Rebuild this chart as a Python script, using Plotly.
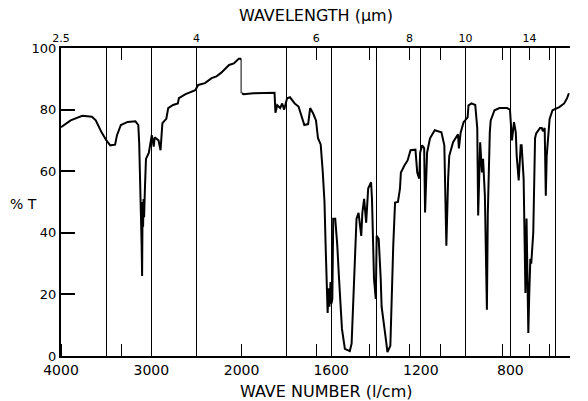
import plotly.graph_objects as go

# ---- data: 4000-2000 cm-1 segment ----
wn_hi = [4000, 3893, 3765, 3658, 3615, 3551, 3497, 3455, 3401, 3380, 3337, 3262, 3176, 3144,
         3134, 3123, 3112, 3107, 3102, 3096, 3091, 3086, 3080, 3070, 3059, 3027, 3016, 2995,
         2973, 2963, 2920, 2898, 2877, 2834, 2813, 2759, 2706, 2695, 2620, 2513, 2481, 2406,
         2332, 2278, 2225, 2139, 2086, 2032, 2011, 2000, 2000]
t_hi = [74.3, 76.5, 78.0, 77.7, 76.5, 72.6, 70.0, 68.4, 68.6, 71.7, 75.0, 76.0, 76.2, 75.0,
        69.0, 57.6, 48.0, 36.0, 26.0, 50.0, 42.0, 51.0, 45.0, 55.0, 64.0, 66.0, 68.4, 71.7,
        68.0, 71.0, 70.0, 66.8, 75.6, 77.0, 80.5, 81.5, 82.0, 83.7, 85.0, 86.3, 88.0, 88.6,
        90.2, 90.8, 92.0, 94.5, 95.0, 96.5, 96.5, 96.0, 85.3]

# ---- data: 2000-534 cm-1 segment ----
wn_lo = [2000, 1991, 1948, 1862, 1853, 1849, 1841, 1828, 1819, 1810, 1797, 1784, 1763, 1746,
         1733, 1720, 1703, 1694, 1681, 1668, 1659, 1647, 1638, 1630, 1625, 1621, 1616, 1612,
         1608, 1603, 1599, 1595, 1591, 1582, 1573, 1565, 1552, 1539, 1517, 1509, 1504, 1496,
         1487, 1478, 1470, 1466, 1461, 1453, 1444, 1435, 1422, 1418, 1409, 1401, 1397, 1388,
         1379, 1375, 1358, 1349, 1336, 1332, 1323, 1315, 1302, 1293, 1289, 1272, 1259, 1246,
         1224, 1216, 1207, 1203, 1194, 1185, 1181, 1172, 1159, 1138, 1108, 1095, 1086, 1078,
         1073, 1056, 1043, 1034, 1030, 1022, 1009, 991, 987, 974, 957, 948, 944, 935, 927,
         922, 914, 905, 901, 897, 892, 888, 871, 849, 815, 802, 797, 793, 784, 776, 772, 763,
         754, 750, 741, 737, 733, 728, 724, 720, 716, 711, 707, 703, 698, 690, 685, 668, 660,
         655, 647, 642, 638, 625, 612, 582, 560, 547, 539]
t_lo = [85.3, 85.0, 85.3, 85.7, 85.5, 79.0, 81.4, 80.5, 82.0, 80.0, 83.7, 84.0, 82.0, 81.0,
        78.0, 75.0, 75.3, 80.5, 78.8, 76.5, 70.7, 68.7, 60.0, 50.0, 36.0, 25.0, 14.0, 22.0,
        16.0, 24.0, 17.0, 18.5, 44.6, 44.6, 36.0, 25.0, 8.8, 2.3, 1.6, 4.0, 14.0, 30.0,
        44.6, 46.5, 41.0, 39.0, 46.5, 51.0, 43.3, 54.4, 56.4, 51.0, 25.0, 18.5, 39.0, 38.0,
        25.0, 16.0, 6.5, 1.3, 3.3, 14.0, 36.0, 49.8, 50.0, 54.4, 59.6, 62.0, 63.5, 66.8,
        67.0, 59.6, 57.6, 66.0, 68.4, 67.5, 46.6, 66.0, 70.7, 73.3, 72.6, 68.4, 35.8, 57.6,
        65.0, 69.4, 71.0, 72.0, 67.4, 72.6, 75.9, 77.5, 81.4, 82.0, 81.5, 74.0, 45.6, 69.4, 59.6,
        64.0, 52.0, 15.0, 46.0, 60.0, 72.6, 76.5, 79.8, 80.5, 80.5, 80.0, 72.6, 70.0, 75.9, 72.6, 65.0, 57.0,
        68.4, 68.4, 57.6, 43.3, 20.5, 44.6, 25.0, 7.5, 20.0, 31.6, 30.0, 35.0, 40.0, 70.7, 72.3, 74.0, 74.0,
        73.0, 74.0, 52.0, 65.0, 77.0, 79.8, 80.8, 82.0, 83.7, 85.3]

# ---- axis ticks ----
hi_grid = [4000, 3500, 3000, 2500, 2000]
hi_text = ["4000", "", "3000", "", "2000"]
lo_grid = [1800, 1600, 1400, 1200, 1000, 800, 600]
lo_text = ["", "1600", "", "1200", "", "800", ""]
y_ticks = [0, 20, 40, 60, 80, 100]
um_hi = [2.5, 3, 4, 5]
um_hi_text = ["2.5", "", "4", ""]
um_lo = [6, 7, 8, 9, 10, 12, 14, 16]
um_lo_text = ["6", "", "8", "", "10", "", "14", ""]

FONT = "DejaVu Sans"
split = (248 - 61) / 527.0

fig = go.Figure()
fig.add_trace(go.Scatter(x=wn_hi, y=t_hi, mode="lines", xaxis="x", yaxis="y",
                         line=dict(color="black", width=2), showlegend=False))
fig.add_trace(go.Scatter(x=wn_lo, y=t_lo, mode="lines", xaxis="x2", yaxis="y",
                         line=dict(color="black", width=2), showlegend=False))
# invisible companions so the wavelength (top) axes are drawn
fig.add_trace(go.Scatter(x=wn_hi, y=t_hi, mode="lines", xaxis="x3", yaxis="y",
                         opacity=0, hoverinfo="skip", showlegend=False))
fig.add_trace(go.Scatter(x=wn_lo, y=t_lo, mode="lines", xaxis="x4", yaxis="y",
                         opacity=0, hoverinfo="skip", showlegend=False))

common_x = dict(showline=True, linecolor="black", linewidth=2, zeroline=False,
                tickfont=dict(family=FONT, size=14, color="black"))

fig.update_layout(
    width=588, height=401,
    margin=dict(l=61, r=0, t=48, b=45),
    paper_bgcolor="white", plot_bgcolor="white",
    xaxis=dict(domain=[0, split], range=[4000, 2000], anchor="y",
               tickmode="array", tickvals=hi_grid, ticktext=hi_text, ticks="",
               showgrid=True, gridcolor="black", gridwidth=1.3, mirror=True,
               minor=dict(tickmode="array", tickvals=[10000 / u for u in um_hi],
                          ticks="inside", ticklen=12, tickwidth=1.3, tickcolor="black",
                          showgrid=False),
               **common_x),
    xaxis2=dict(domain=[split, 1], range=[2000, 534], anchor="y",
                tickmode="array", tickvals=lo_grid, ticktext=lo_text, ticks="",
                showgrid=True, gridcolor="black", gridwidth=1.3, mirror=True,
                minor=dict(tickmode="array", tickvals=[10000 / u for u in um_lo],
                           ticks="inside", ticklen=12, tickwidth=1.3, tickcolor="black",
                           showgrid=False),
                **common_x),
    xaxis3=dict(overlaying="x", side="top", range=[4000, 2000], anchor="y",
                tickmode="array", tickvals=[10000 / u for u in um_hi], ticktext=um_hi_text,
                ticks="inside", ticklen=12, tickwidth=1.3, tickcolor="black",
                showgrid=False, showline=False, zeroline=False, ticklabelstandoff=3,
                tickfont=dict(family=FONT, size=11, color="black")),
    xaxis4=dict(overlaying="x2", side="top", range=[2000, 534], anchor="y",
                tickmode="array", tickvals=[10000 / u for u in um_lo], ticktext=um_lo_text,
                ticks="inside", ticklen=12, tickwidth=1.3, tickcolor="black",
                showgrid=False, showline=False, zeroline=False, ticklabelstandoff=3,
                tickfont=dict(family=FONT, size=11, color="black")),
    yaxis=dict(range=[0, 100], tickmode="array", tickvals=y_ticks,
               ticks="inside", ticklen=14, tickwidth=1.5, tickcolor="black",
               showline=True, linecolor="black", linewidth=2, showgrid=False, zeroline=False,
               tickfont=dict(family=FONT, size=13, color="black")),
    yaxis2=dict(overlaying="y", side="right", range=[0, 100], tickmode="array",
                tickvals=y_ticks, ticks="inside", ticklen=11, tickwidth=1.5,
                tickcolor="black", showticklabels=False, showline=False,
                showgrid=False, zeroline=False, anchor="x2"),
    annotations=[
        dict(text="WAVELENGTH (\u03bcm)", xref="paper", yref="paper", x=0.5, y=1.107,
             showarrow=False, xanchor="center", yanchor="middle",
             font=dict(family=FONT, size=16, color="black")),
        dict(text="WAVE NUMBER (l/cm)", xref="paper", yref="paper", x=0.52, y=-0.114,
             showarrow=False, xanchor="center", yanchor="middle",
             font=dict(family=FONT, size=16, color="black")),
        dict(text="% T", xref="paper", yref="paper", x=-0.074, y=0.493,
             showarrow=False, xanchor="center", yanchor="middle",
             font=dict(family=FONT, size=14, color="black")),
    ],
)

fig.write_html("out.html", config={"displayModeBar": False},
               post_script="document.body.style.margin='0';")
